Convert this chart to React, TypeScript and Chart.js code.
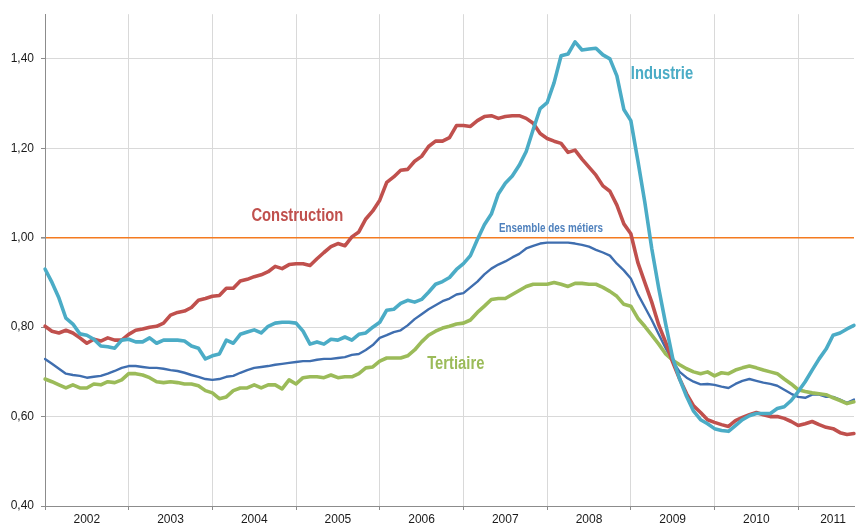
import React, { useEffect, useRef } from "react";
import { Chart, registerables } from "chart.js";

Chart.register(...registerables);

// ---- Data -----------------------------------------------------------------
const YEARS = ["2002", "2003", "2004", "2005", "2006", "2007", "2008", "2009", "2010", "2011"];
const MONTHS = ["01", "02", "03", "04", "05", "06", "07", "08", "09", "10", "11", "12"];
const LAST_MONTH_2011 = 9; // series end in September 2011

// month index at which each year label is centred
const YEAR_LABEL_AT: Record<number, string> = {
  6: "2002", 18: "2003", 30: "2004", 42: "2005", 54: "2006",
  66: "2007", 78: "2008", 90: "2009", 102: "2010", 113: "2011",
};

const Y_TICKS = [0.4, 0.6, 0.8, 1.0, 1.2, 1.4];

const industrie = [
  0.93, 0.90, 0.865, 0.82, 0.807, 0.785, 0.782, 0.773, 0.758, 0.756, 0.753, 0.771,
  0.773, 0.767, 0.767, 0.776, 0.764, 0.771, 0.771, 0.771, 0.769, 0.758, 0.753, 0.729,
  0.736, 0.74, 0.771, 0.764, 0.784, 0.789, 0.794, 0.787, 0.802, 0.809, 0.811, 0.811,
  0.809, 0.791, 0.762, 0.767, 0.762, 0.773, 0.771, 0.778, 0.771, 0.784, 0.787, 0.80,
  0.811, 0.838, 0.84, 0.853, 0.86, 0.856, 0.862, 0.878, 0.896, 0.902, 0.911, 0.929,
  0.942, 0.96, 0.996, 1.029, 1.053, 1.098, 1.122, 1.138, 1.162, 1.193, 1.242, 1.289,
  1.302, 1.347, 1.407, 1.411, 1.438, 1.42, 1.422, 1.424, 1.409, 1.40, 1.362, 1.287,
  1.262, 1.173, 1.08, 0.976, 0.887, 0.807, 0.731, 0.684, 0.645, 0.612, 0.593, 0.584,
  0.573, 0.569, 0.567, 0.58, 0.593, 0.602, 0.607, 0.607, 0.607, 0.618, 0.622, 0.636,
  0.656, 0.678, 0.704, 0.729, 0.751, 0.782, 0.787, 0.796, 0.804,
];

const construction = [
  0.802, 0.791, 0.787, 0.793, 0.787, 0.776, 0.764, 0.773, 0.769, 0.776, 0.771, 0.771,
  0.784, 0.793, 0.796, 0.80, 0.802, 0.809, 0.827, 0.833, 0.836, 0.844, 0.86, 0.864,
  0.869, 0.871, 0.887, 0.887, 0.903, 0.907, 0.913, 0.917, 0.924, 0.936, 0.931, 0.94,
  0.942, 0.942, 0.938, 0.953, 0.967, 0.98, 0.987, 0.982, 1.002, 1.013, 1.042, 1.06,
  1.084, 1.124, 1.136, 1.151, 1.153, 1.171, 1.182, 1.204, 1.216, 1.216, 1.224, 1.251,
  1.251, 1.249, 1.262, 1.271, 1.273, 1.267, 1.271, 1.273, 1.273, 1.267, 1.256, 1.233,
  1.222, 1.216, 1.211, 1.191, 1.196, 1.176, 1.158, 1.14, 1.116, 1.104, 1.073, 1.031,
  1.009, 0.945, 0.90, 0.856, 0.805, 0.766, 0.722, 0.684, 0.651, 0.624, 0.609, 0.593,
  0.587, 0.582, 0.578, 0.591, 0.598, 0.604, 0.609, 0.604, 0.60, 0.60, 0.596, 0.589,
  0.58, 0.584, 0.589, 0.582, 0.576, 0.573, 0.564, 0.56, 0.562,
];

const ensemble = [
  0.729, 0.718, 0.707, 0.696, 0.693, 0.691, 0.687, 0.689, 0.691, 0.696, 0.702, 0.709,
  0.713, 0.713, 0.711, 0.709, 0.709, 0.707, 0.704, 0.702, 0.698, 0.693, 0.689, 0.684,
  0.682, 0.684, 0.689, 0.691, 0.698, 0.704, 0.709, 0.711, 0.713, 0.716, 0.718, 0.72,
  0.722, 0.724, 0.724, 0.727, 0.729, 0.729, 0.731, 0.733, 0.738, 0.74, 0.749, 0.76,
  0.776, 0.782, 0.789, 0.793, 0.804, 0.818, 0.829, 0.84, 0.849, 0.858, 0.864, 0.873,
  0.876, 0.889, 0.902, 0.918, 0.931, 0.94, 0.947, 0.956, 0.964, 0.976, 0.982, 0.987,
  0.989, 0.989, 0.989, 0.989, 0.987, 0.984, 0.98, 0.973, 0.967, 0.960, 0.942, 0.927,
  0.909, 0.874, 0.845, 0.816, 0.784, 0.753, 0.724, 0.700, 0.687, 0.678, 0.672, 0.673,
  0.671, 0.667, 0.664, 0.673, 0.68, 0.684, 0.68, 0.676, 0.673, 0.669, 0.66, 0.651,
  0.644, 0.642, 0.649, 0.649, 0.644, 0.644, 0.638, 0.631, 0.638,
];

const tertiaire = [
  0.684, 0.678, 0.671, 0.664, 0.671, 0.664, 0.664, 0.673, 0.671, 0.678, 0.676, 0.682,
  0.696, 0.696, 0.693, 0.687, 0.678, 0.676, 0.678, 0.676, 0.673, 0.673, 0.669, 0.658,
  0.653, 0.64, 0.644, 0.658, 0.664, 0.664, 0.671, 0.664, 0.671, 0.671, 0.662, 0.682,
  0.673, 0.687, 0.689, 0.689, 0.687, 0.693, 0.687, 0.689, 0.689, 0.696, 0.709, 0.711,
  0.724, 0.731, 0.731, 0.731, 0.736, 0.749, 0.767, 0.782, 0.791, 0.798, 0.802, 0.807,
  0.809, 0.816, 0.833, 0.847, 0.862, 0.864, 0.864, 0.873, 0.882, 0.891, 0.896, 0.896,
  0.896, 0.90, 0.896, 0.891, 0.898, 0.898, 0.896, 0.896, 0.889, 0.88, 0.869, 0.851,
  0.847, 0.82, 0.802, 0.782, 0.762, 0.74, 0.726, 0.716, 0.707, 0.70, 0.696, 0.70,
  0.691, 0.698, 0.696, 0.704, 0.709, 0.713, 0.709, 0.704, 0.70, 0.696, 0.684, 0.673,
  0.66, 0.656, 0.653, 0.651, 0.649, 0.642, 0.636, 0.629, 0.633,
];

// Series labels written on the plot (month index, value at text baseline)
const SERIES_LABELS = [
  { text: "Industrie", at: 84.0, value: 1.356, color: "#4BACC6", size: 18 },
  { text: "Construction", at: 29.6, value: 1.037, color: "#C0504D", size: 18 },
  { text: "Ensemble des métiers", at: 65.1, value: 1.013, color: "#4F81BD", size: 12 },
  { text: "Tertiaire", at: 54.8, value: 0.707, color: "#9BBB59", size: 18 },
];

// ---- Helpers ----------------------------------------------------------------
const monthLabels: string[] = [];
YEARS.forEach((y, yi) => {
  MONTHS.forEach((m, mi) => {
    if (yi < YEARS.length - 1 || mi < LAST_MONTH_2011) monthLabels.push(`${y}-${m}`);
  });
});

const FONT = '"Liberation Sans", Arial, sans-serif';

const seriesLabelPlugin = {
  id: "seriesLabels",
  afterDatasetsDraw(chart: any) {
    const { ctx, scales } = chart;
    ctx.save();
    SERIES_LABELS.forEach((l) => {
      const x = scales.x.getPixelForValue(l.at);
      const y = scales.y.getPixelForValue(l.value);
      ctx.save();
      ctx.translate(x, y);
      ctx.scale(0.82, 1);
      ctx.font = `bold ${l.size}px ${FONT}`;
      ctx.fillStyle = l.color;
      ctx.textAlign = "left";
      ctx.textBaseline = "alphabetic";
      ctx.fillText(l.text, 0, 0);
      ctx.restore();
    });
    ctx.restore();
  },
};

export default function App() {
  const canvasRef = useRef<HTMLCanvasElement | null>(null);

  useEffect(() => {
    if (!canvasRef.current) return;
    const line = (label: string, data: number[], color: string, width: number, order: number) => ({
      label,
      data,
      borderColor: color,
      backgroundColor: color,
      borderWidth: width,
      pointRadius: 0,
      tension: 0,
      borderJoinStyle: "round" as const,
      borderCapStyle: "round" as const,
      order,
    });

    const chart = new Chart(canvasRef.current, {
      type: "line",
      data: {
        labels: monthLabels,
        datasets: [
          line("Industrie", industrie, "#4BACC6", 3.6, 1),
          line("Construction", construction, "#C0504D", 3.6, 2),
          line("Tertiaire", tertiaire, "#9BBB59", 3.6, 3),
          line("Ensemble des métiers", ensemble, "#3F6EAF", 2.4, 4),
        ],
      },
      options: {
        animation: false,
        responsive: false,
        maintainAspectRatio: false,
        devicePixelRatio: 1,
        layout: { padding: { top: 10, left: 0, right: 0, bottom: 0 } },
        plugins: {
          legend: { display: false },
          tooltip: { enabled: false },
        },
        scales: {
          x: {
            type: "category",
            offset: false,
            border: { display: true, color: "#8c8c8c", width: 1 },
            grid: {
              display: true,
              drawOnChartArea: true,
              drawTicks: true,
              tickLength: 4,
              color: (c: any) => (c.index % 12 === 0 && c.index > 0 ? "#d9d9d9" : "rgba(0,0,0,0)"),
              tickColor: (c: any) => (c.index % 12 === 0 ? "#8c8c8c" : "rgba(0,0,0,0)"),
              lineWidth: 1,
            },
            ticks: {
              autoSkip: false,
              maxRotation: 0,
              minRotation: 0,
              padding: 2,
              color: "#1a1a1a",
              font: { family: FONT, size: 12 },
              callback: (_v: any, i: number) => YEAR_LABEL_AT[i] ?? "",
            },
            afterFit: (axis: any) => {
              axis.height = 18;
            },
          },
          y: {
            type: "linear",
            min: 0.4,
            max: 1.5,
            border: { display: true, color: "#8c8c8c", width: 1 },
            grid: {
              drawTicks: true,
              tickLength: 4,
              tickColor: "#8c8c8c",
              color: (c: any) =>
                c.tick && Math.abs(c.tick.value - 1) < 1e-6 ? "#F47B20" : "#d9d9d9",
              lineWidth: (c: any) =>
                c.tick && Math.abs(c.tick.value - 1) < 1e-6 ? 1.6 : 1,
            },
            afterBuildTicks: (axis: any) => {
              axis.ticks = Y_TICKS.map((v) => ({ value: v }));
            },
            ticks: {
              padding: 7,
              color: "#1a1a1a",
              font: { family: FONT, size: 12 },
              callback: (v: any) => Number(v).toFixed(2).replace(".", ","),
            },
            afterFit: (axis: any) => {
              axis.width = 45;
            },
          },
        },
      },
      plugins: [seriesLabelPlugin],
    });

    return () => chart.destroy();
  }, []);

  return (
    <div
      style={{
        position: "fixed",
        left: 0,
        top: 0,
        width: 856,
        height: 524,
        background: "#ffffff",
      }}
    >
      <canvas ref={canvasRef} width={856} height={524} style={{ display: "block" }} />
    </div>
  );
}
